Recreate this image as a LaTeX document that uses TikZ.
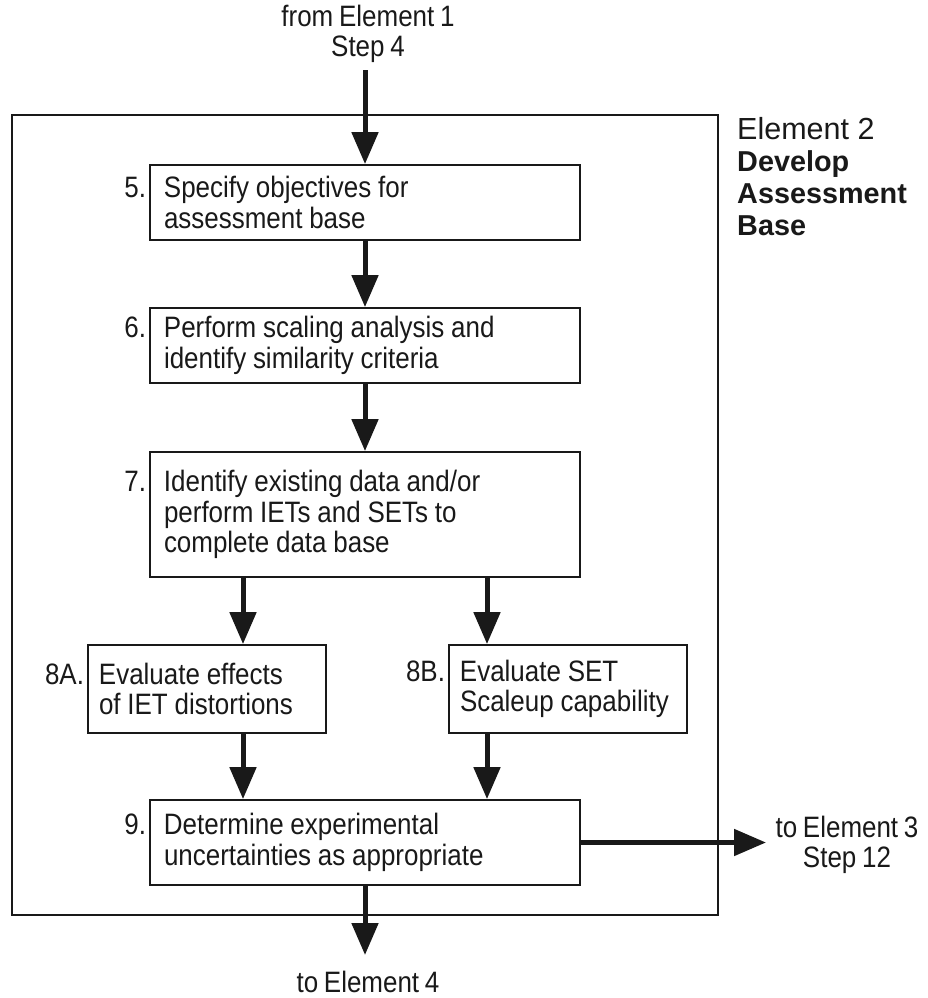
\documentclass[tikz,border=0pt]{standalone}
\usepackage{fontspec}
\setmainfont{Liberation Sans}[FakeStretch=0.88,WordSpace=0.8]
\newfontfamily\elemfont{Liberation Sans}
\usetikzlibrary{arrows.meta}
\definecolor{ink}{gray}{0.1}
\begin{document}
\begin{tikzpicture}[x=1pt,y=-1pt,
  box/.style={draw=ink,line width=1.8pt,fill=white,inner ysep=0pt,
    align=left,font=\fontsize{29.5}{30.5}\selectfont,text=ink,
    execute at begin node={\spaceskip=0.23em\relax\xspaceskip=0.23em\relax}},
  wide/.style={box,inner xsep=14pt,minimum width=430pt,text width=402pt},
  narrow/.style={box,inner xsep=11pt,minimum width=238pt,text width=216pt},
  flow/.style={draw=ink,line width=5pt,-{Triangle[width=26pt,length=32pt]}},
  lbl/.style={align=center,inner sep=0pt,font=\fontsize{29.5}{30}\selectfont,text=ink}]
\useasboundingbox (0,0) rectangle (927,998);
\node[draw=ink,line width=2.5pt,minimum width=706pt,minimum height=800pt,inner sep=0pt] (frame) at (365,515) {};
\node[wide,minimum height=75pt] (b5) at (365,202.5) {\llap{5.\hspace{18pt}}Specify objectives for\\assessment base};
\node[wide,minimum height=75pt] (b6) at (365,345.5) {\llap{6.\hspace{18pt}}Perform scaling analysis and\\identify similarity criteria};
\node[wide,minimum height=125pt] (b7) at (365,514.5) {\llap{7.\hspace{18pt}}Identify existing data and/or\\perform IETs and SETs to\\complete data base};
\node[narrow,minimum height=88pt] (b8a) at (207,689) {\llap{8A.\hspace{15pt}}Evaluate effects\\of IET distortions};
\node[narrow,minimum height=88pt] (b8b) at (568,689) {\llap{8B.\hspace{15pt}}Evaluate SET\\Scaleup capability};
\node[wide,minimum height=85pt] (b9) at (365,842.5) {\llap{9.\hspace{18pt}}Determine experimental\\uncertainties as appropriate};
\node[lbl] (from) at (368,34) {from Element 1\\Step 4};
\node[lbl] (to3) at (847,845) {to Element 3\\Step 12};
\node[lbl] (to4) at (368,982) {to Element 4};
\node[anchor=north west,align=left,inner sep=0pt,text=ink,font=\elemfont\fontsize{28.8}{32}\selectfont] (elem) at (737,117)
  {{\fontsize{30.5}{32}\selectfont Element 2}\\\textbf{Develop}\\\textbf{Assessment}\\\textbf{Base}};
\coordinate (ctop) at (365,70);
\coordinate (cbot) at (365,955);
\coordinate (cright) at (766,842.5);
\coordinate (ca) at (243,0);
\coordinate (cb) at (487,0);
\draw[flow] (ctop) -- (b5.north);
\draw[flow] (b5.south) -- (b6.north);
\draw[flow] (b6.south) -- (b7.north);
\draw[flow] (b7.south -| ca) -- (b8a.north -| ca);
\draw[flow] (b7.south -| cb) -- (b8b.north -| cb);
\draw[flow] (b8a.south -| ca) -- (b9.north -| ca);
\draw[flow] (b8b.south -| cb) -- (b9.north -| cb);
\draw[flow] (b9.east) -- (cright);
\draw[flow] (b9.south) -- (cbot);
\end{tikzpicture}
\end{document}
